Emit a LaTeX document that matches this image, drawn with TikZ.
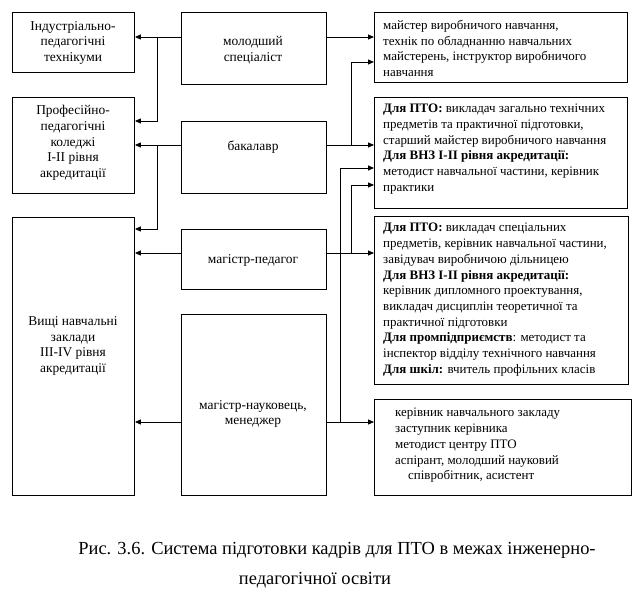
\documentclass[tikz,border=0pt]{standalone}
\usepackage{fontspec}
\setmainfont{Liberation Serif}
\usepackage{tikz}
\usetikzlibrary{arrows.meta}
\definecolor{ink}{HTML}{000000}
\tikzset{
  box/.style={draw=ink, line width=0.9pt, anchor=north west, inner sep=0pt},
  arr/.style={draw=ink, line width=0.9pt, -{Triangle[length=6bp,width=5bp]}},
  txt/.style={text=ink, font=\fontsize{13.5}{15.8}\selectfont, align=center, inner sep=0pt},
  txtl/.style={text=ink, font=\fontsize{13}{15.8}\selectfont, align=left, inner sep=0pt, anchor=north west},
  captxt/.style={text=ink, font=\fontsize{18.5}{30}\selectfont, align=center, inner sep=0pt},
}
\begin{document}
\begin{tikzpicture}[x=1bp, y=-1bp]
  \path[use as bounding box, fill=white] (0,0) rectangle (641,604);
  % left column
  \node[box, minimum width=122bp, minimum height=60bp] (l1) at (12,12) {};
  \node[box, minimum width=122bp, minimum height=96bp] (l2) at (12,97) {};
  \node[box, minimum width=122bp, minimum height=278bp] (l3) at (12,217) {};
  \node[txt] (l1t) at (73,43) {Індустріально-\\педагогічні\\технікуми};
  \node[txt] (l2t) at (73,143) {Професійно-\\педагогічні\\коледжі\\I-II рівня\\акредитації};
  \node[txt] (l3t) at (73,346) {Вищі навчальні\\заклади\\III-IV рівня\\акредитації};
  % middle column
  \node[box, minimum width=145bp, minimum height=72bp] (m1) at (181,12) {};
  \node[box, minimum width=145bp, minimum height=72bp] (m2) at (181,121) {};
  \node[box, minimum width=145bp, minimum height=60bp] (m3) at (181,229) {};
  \node[box, minimum width=145bp, minimum height=181bp] (m4) at (181,314) {};
  \node[txt] (m1t) at (253,50) {молодший\\спеціаліст};
  \node[txt] (m2t) at (253,147) {бакалавр};
  \node[txt] (m3t) at (253,260) {магістр-педагог};
  \node[txt] (m4t) at (253,414) {магістр-науковець,\\менеджер};
  % right column
  \node[box, minimum width=253bp, minimum height=70bp] (r1) at (374,12) {};
  \node[box, minimum width=253bp, minimum height=111bp] (r2) at (374,97) {};
  \node[box, minimum width=254bp, minimum height=168bp] (r3) at (374,216) {};
  \node[box, minimum width=257bp, minimum height=96bp] (r4) at (374,399) {};
  \node[txtl] (r1t) at (383,20) {майстер виробничого навчання,\\технік по обладнанню навчальних\\майстерень, інструктор виробничого\\навчання};
  \node[txtl] (r2t) at (383,104) {\textbf{Для ПТО:} викладач загально технічних\\предметів та практичної підготовки,\\старший майстер виробничого навчання\\\textbf{Для ВНЗ I-II рівня акредитації:}\\методист навчальної частини, керівник\\практики};
  \node[txtl] (r3t) at (383,223) {\textbf{Для ПТО:} викладач спеціальних\\предметів, керівник навчальної частини,\\завідувач виробничою дільницею\\\textbf{Для ВНЗ I-II рівня акредитації:}\\керівник дипломного проектування,\\викладач дисциплін теоретичної та\\практичної підготовки\\\textbf{Для промпідприємств}: методист та\\інспектор відділу технічного навчання\\\textbf{Для шкіл:} вчитель профільних класів};
  \node[txtl] (r4t) at (395,408) {керівник навчального закладу\\заступник керівника\\методист центру ПТО\\аспірант, молодший науковий\\\hspace*{13bp}співробітник, асистент};
  % junctions
  \coordinate (jl1) at (157,37);
  \coordinate (jl2) at (157,145);
  \coordinate (jr1) at (351,145);
  \coordinate (jr2) at (351,253);
  \coordinate (jr3) at (340,422);
  % to the left
  \draw[arr] (m1.west |- jl1) -- (l1.east |- jl1);
  \draw[arr] (jl1) |- (l2.east |- 0,121);
  \draw[arr] (m2.west |- jl2) -- (l2.east |- jl2);
  \draw[arr] (jl2) |- (l3.east |- 0,229);
  \draw[arr] (m3.west |- jr2) -- (l3.east |- jr2);
  \draw[arr] (m4.west |- jr3) -- (l3.east |- jr3);
  % to the right
  \draw[arr] (m1.east |- jl1) -- (r1.west |- jl1);
  \draw[arr] (m2.east |- jr1) -- (r2.west |- jr1);
  \draw[arr] (jr1) |- (r1.west |- 0,62);
  \draw[arr] (m3.east |- jr2) -- (r3.west |- jr2);
  \draw[arr] (jr2) |- (r2.west |- 0,185);
  \draw[arr] (m4.east |- jr3) -- (r4.west |- jr3);
  \draw[arr] (jr3) |- (r2.west |- 0,168);
  % caption
  \node[captxt] (cap) at (337,565) {Рис. 3.6. Система підготовки кадрів для ПТО в межах інженерно-\\педагогічної освіти\hspace*{44bp}};
\end{tikzpicture}
\end{document}
